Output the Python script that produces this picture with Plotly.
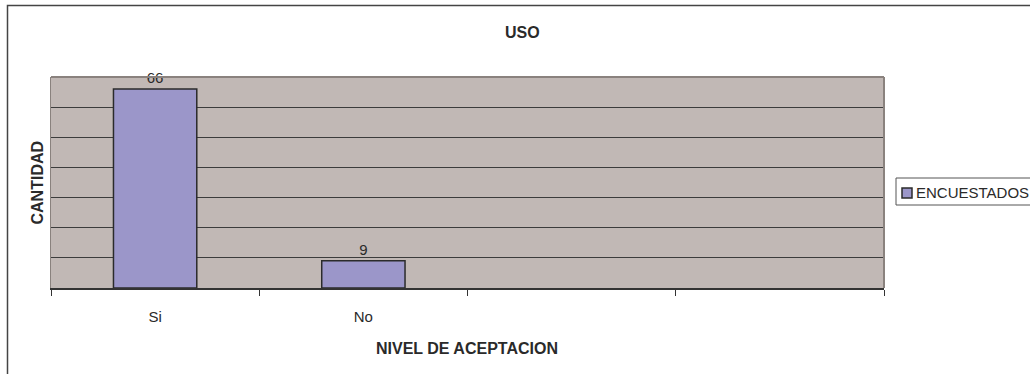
import plotly.graph_objects as go

categories = ["Si", "No", " ", "  "]
values = [66, 9, None, None]
series_name = "ENCUESTADOS"
title_text = "USO"
x_title = "NIVEL DE ACEPTACION"
y_title = "CANTIDAD"

FONT = "Liberation Sans, Arial, sans-serif"
TXT = "#2a2a2a"

W, H = 1030, 374
L, R, T, B = 51, 146, 77, 86
pw, ph = W - L - R, H - T - B

def px(x):
    return (x - L) / pw

def py(y):
    return (H - B - y) / ph

fig = go.Figure()
fig.add_trace(go.Bar(
    x=categories, y=values, name=series_name,
    marker=dict(color="#9B96C9", line=dict(color="#2b2b2b", width=1.5)),
    width=0.4,
    text=[str(v) if v is not None else "" for v in values],
    textposition="outside",
    textfont=dict(family=FONT, size=15, color=TXT),
    cliponaxis=False,
    showlegend=False,
))

shapes = [
    # outer chart frame
    dict(type="rect", xref="paper", yref="paper", x0=px(7.5), x1=px(1045), y0=py(5.5), y1=py(390),
         line=dict(color="#444444", width=1.5), fillcolor="rgba(0,0,0,0)", layer="below"),
    # plot area border (top/right grey)
    dict(type="line", xref="paper", yref="paper", x0=0, x1=1, y0=1, y1=1,
         line=dict(color="#8a827e", width=2)),
    dict(type="line", xref="paper", yref="paper", x0=1, x1=1, y0=0, y1=1,
         line=dict(color="#8a827e", width=2)),
    # legend box
    dict(type="rect", xref="paper", yref="paper", x0=px(896), x1=px(1045), y0=py(205), y1=py(178),
         line=dict(color="#555555", width=1), fillcolor="white"),
    dict(type="rect", xref="paper", yref="paper", x0=px(902), x1=px(912), y0=py(198), y1=py(188),
         line=dict(color="#2b2b2b", width=1.5), fillcolor="#9B96C9"),
]

annotations = [
    dict(text=series_name, xref="paper", yref="paper", x=px(914), y=py(192),
         xanchor="left", yanchor="middle", showarrow=False,
         font=dict(family=FONT, size=15, color=TXT)),
    dict(text="<b>%s</b>" % y_title, xref="paper", yref="paper", x=px(36.5), y=py(183),
         xanchor="center", yanchor="middle", textangle=-90, showarrow=False,
         font=dict(family=FONT, size=16, color=TXT)),
    dict(text="<b>%s</b>" % x_title, xref="paper", yref="paper", x=px(467), y=py(348.5),
         xanchor="center", yanchor="middle", showarrow=False,
         font=dict(family=FONT, size=16, color=TXT)),
    dict(text="<b>%s</b>" % title_text, xref="paper", yref="paper", x=px(522), y=py(32.5),
         xanchor="center", yanchor="middle", showarrow=False,
         font=dict(family=FONT, size=16, color=TXT)),
]

fig.update_layout(
    width=W, height=H,
    margin=dict(l=L, r=R, t=T, b=B, autoexpand=False),
    paper_bgcolor="white", plot_bgcolor="#C1B8B5",
    showlegend=False,
    shapes=shapes, annotations=annotations,
    bargap=0.6,
)
fig.update_xaxes(
    type="category", categoryorder="array", categoryarray=categories,
    range=[-0.5, 3.5], tickson="boundaries",
    ticks="outside", ticklen=6, tickcolor="#333333", tickwidth=1,
    showline=True, linecolor="#333333", linewidth=1.5,
    showgrid=False, zeroline=False,
    tickfont=dict(family=FONT, size=15, color=TXT),
    ticklabelstandoff=14,
)
fig.update_yaxes(
    range=[0, 70], dtick=10, showticklabels=False,
    showgrid=True, gridcolor="#3c3c3c", gridwidth=1,
    showline=True, linecolor="#8a827e", linewidth=1,
    zeroline=False, ticks="",
)

fig.write_html("out.html")
